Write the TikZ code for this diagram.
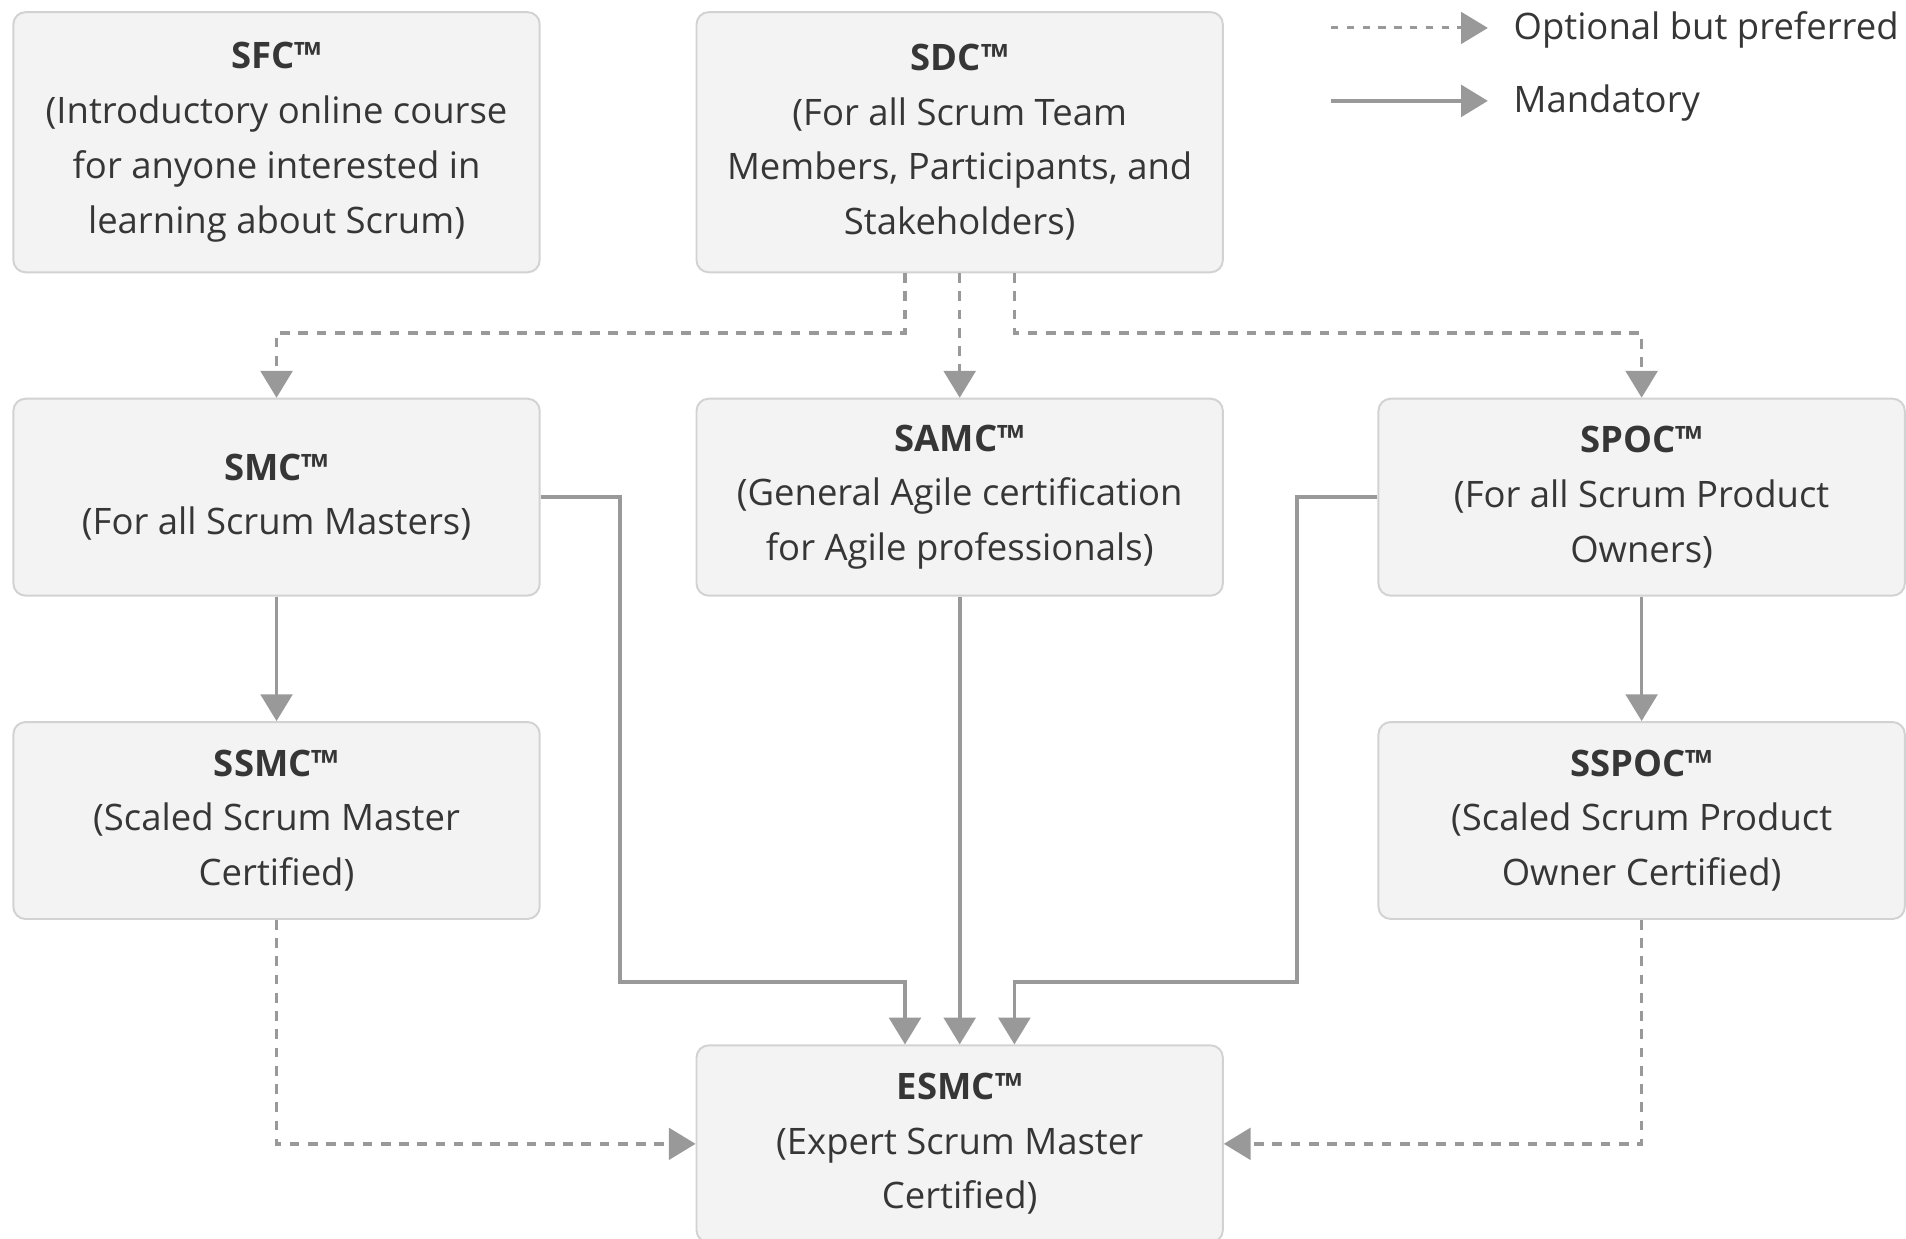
\documentclass[tikz,border=0pt]{standalone}
\usepackage{fontspec}
\setmainfont{Open Sans}
\usetikzlibrary{arrows.meta}
\definecolor{boxfill}{HTML}{F3F3F3}
\definecolor{boxline}{HTML}{D2D2D2}
\definecolor{conn}{HTML}{999999}
\definecolor{txt}{HTML}{363636}
\begin{document}
\begin{tikzpicture}[x=1pt,y=-1pt,
  cert/.style={draw=boxline,line width=1.6pt,fill=boxfill,rounded corners=10pt,
    minimum width=433pt,inner sep=0pt,align=center,text=txt,
    font=\fontsize{30}{45}\selectfont},
  tall/.style={minimum height=214pt},
  short/.style={minimum height=162pt},
  mand/.style={draw=conn,line width=3pt,-{Triangle[width=26pt,length=22pt]}},
  opt/.style={draw=conn,line width=2.8pt,dash pattern=on 8pt off 7pt,-{Triangle[width=26pt,length=22pt]}},
  legtxt/.style={anchor=west,text=txt,inner sep=0pt,font=\fontsize{30}{34}\selectfont}
]
\useasboundingbox (0,0) rectangle (1568,1019);
\node[cert,tall] (sfc) at (227.5,117) {\textbf{SFC™}\\(Introductory online course\\for anyone interested in\\learning about Scrum)};
\node[cert,tall] (sdc) at (789.5,117) {\textbf{SDC™}\\(For all Scrum Team\\Members, Participants, and\\Stakeholders)};
\node[cert,short] (smc) at (227.5,409) {\textbf{SMC™}\\(For all Scrum Masters)};
\node[cert,short] (samc) at (789.5,409) {\textbf{SAMC™}\\(General Agile certification\\for Agile professionals)};
\node[cert,short] (spoc) at (1350.5,409) {\textbf{SPOC™}\\(For all Scrum Product\\Owners)};
\node[cert,short] (ssmc) at (227.5,675) {\textbf{SSMC™}\\(Scaled Scrum Master\\Certified)};
\node[cert,short] (sspoc) at (1350.5,675) {\textbf{SSPOC™}\\(Scaled Scrum Product\\Owner Certified)};
\node[cert,short] (esmc) at (789.5,941) {\textbf{ESMC™}\\(Expert Scrum Master\\Certified)};

% optional connectors from SDC
\draw[opt] ([xshift=-45pt]sdc.south) -- ++(0,49) -| (smc.north);
\draw[opt] (sdc.south) -- (samc.north);
\draw[opt] ([xshift=45pt]sdc.south) -- ++(0,49) -| (spoc.north);

% mandatory
\draw[mand] (smc.south) -- (ssmc.north);
\draw[mand] (spoc.south) -- (sspoc.north);
\draw[mand] (samc.south) -- (esmc.north);
\draw[mand] (smc.east) -- ++(65,0) -- ++(0,399) -| ([xshift=-45pt]esmc.north);
\draw[mand] (spoc.west) -- ++(-66,0) -- ++(0,399) -| ([xshift=45pt]esmc.north);

% optional into ESMC
\draw[opt] (ssmc.south) |- (esmc.west);
\draw[opt] (sspoc.south) |- (esmc.east);

% legend
\coordinate (l1a) at (1095,23);
\coordinate (l1b) at (1224,23);
\coordinate (l2a) at (1095,83);
\coordinate (l2b) at (1224,83);
\draw[opt,dash pattern=on 6pt off 7pt,line width=2.4pt] (l1a) -- (l1b);
\draw[mand] (l2a) -- (l2b);
\node[legtxt] (lopt) at (1245,25) {Optional but preferred};
\node[legtxt] (lman) at (1245,85) {Mandatory};
\end{tikzpicture}
\end{document}
